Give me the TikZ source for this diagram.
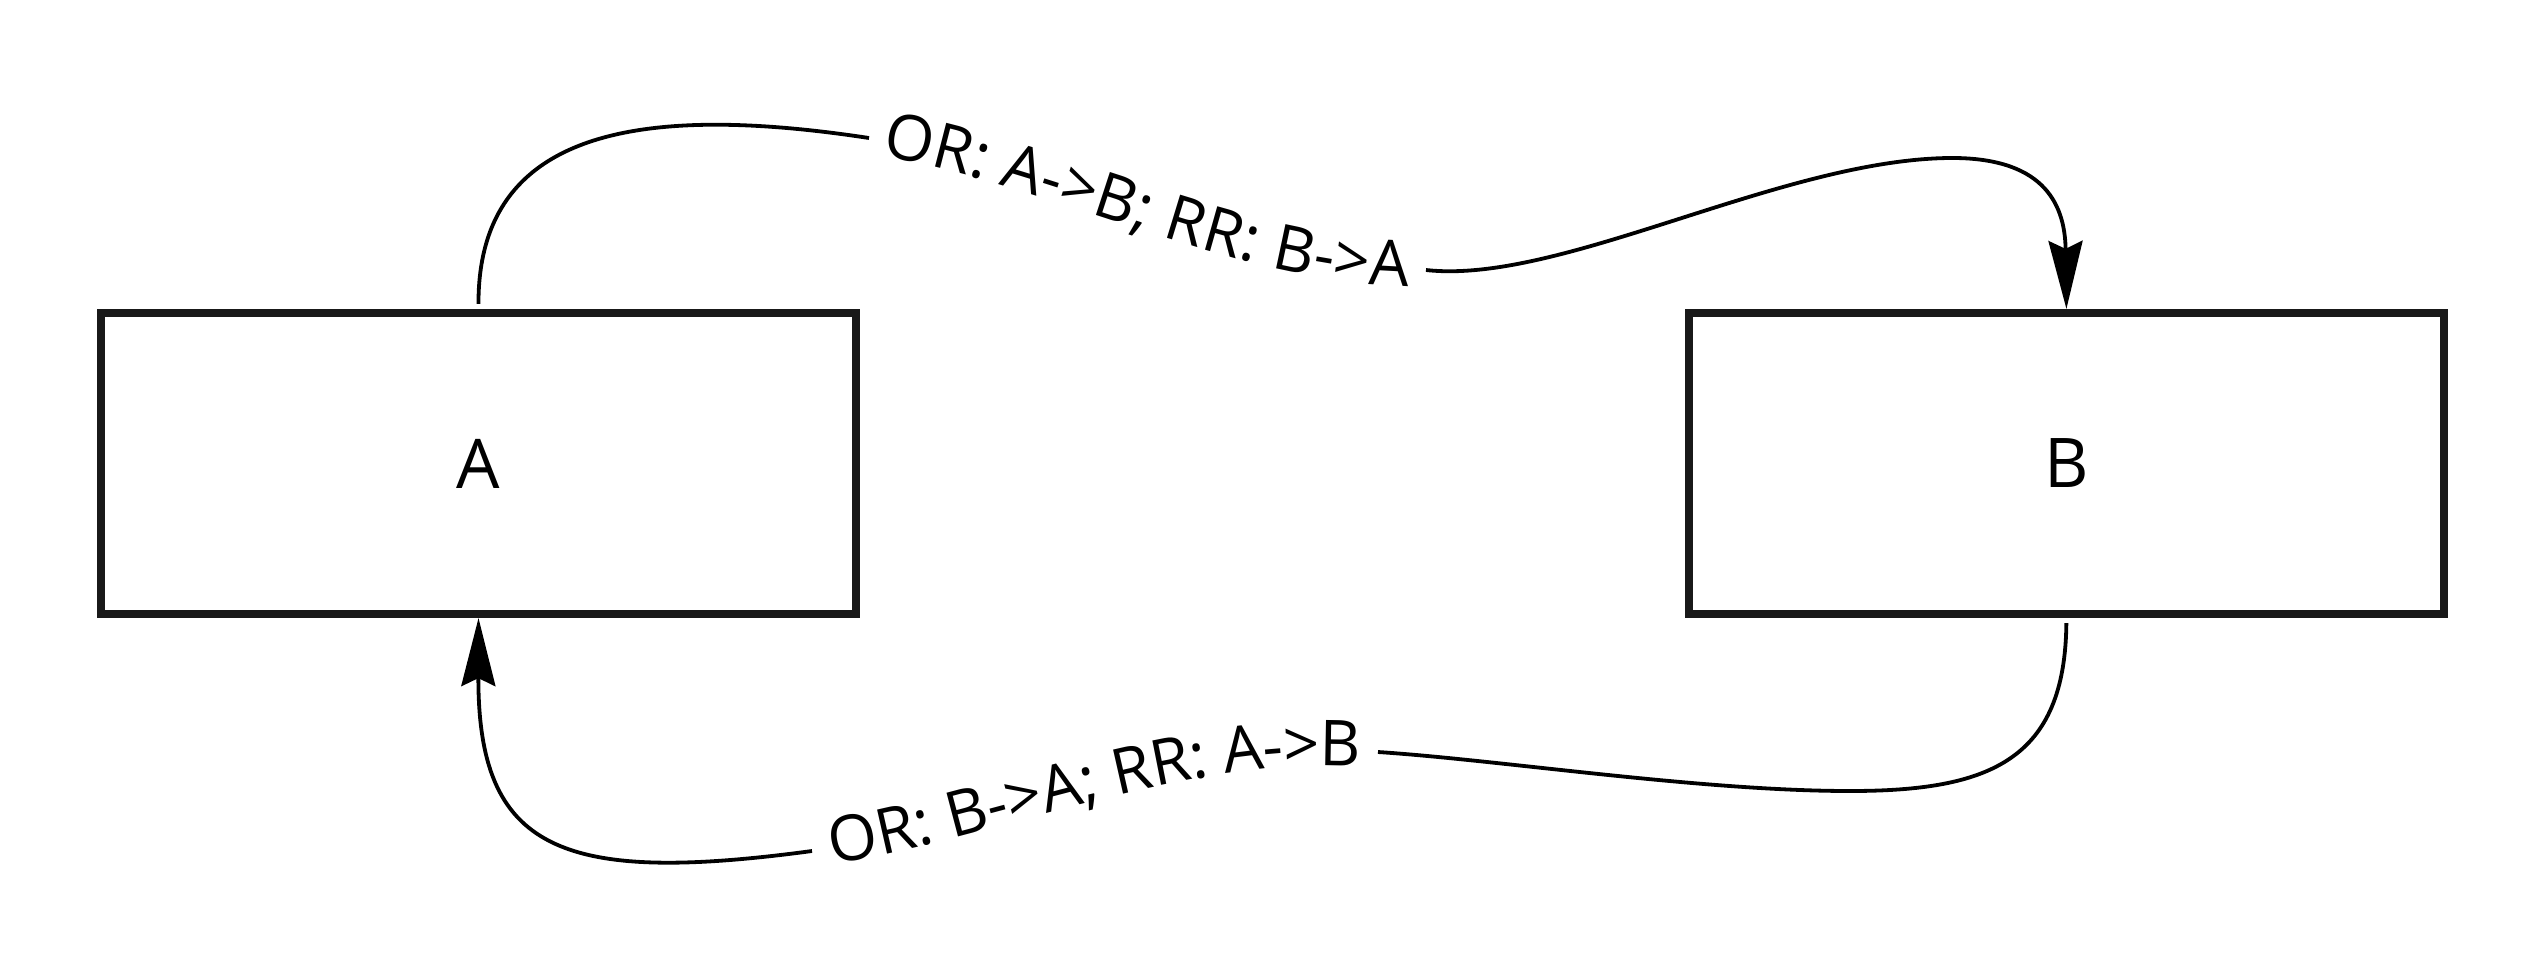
\documentclass[tikz,border=0pt]{standalone}
\usepackage{fontspec}
\setmainfont{Open Sans}
\usetikzlibrary{arrows.meta,positioning,decorations.text}
\newcommand\lblsize{\fontsize{19.5pt}{23pt}\selectfont}
\newcommand\edgesize{\fontsize{18pt}{22pt}\selectfont}

\begin{document}
\begin{tikzpicture}[
x=0.01cm,y=-0.01cm,
node distance=8.24cm,
every node/.style={font=\lblsize},
box/.style={draw=black!90,line width=0.08cm,minimum width=7.55cm,minimum height=3.01cm},
link/.style={line width=0.038cm,draw=black},
arr/.style={link,-{Stealth[length=0.68cm,width=0.34cm,inset=0.08cm]}},
lbl/.style={decorate,decoration={text along path,text align=center,raise=-0.16cm,text={|\edgesize|#1}}}
]
\useasboundingbox (0,0) rectangle (2547,978);
\node[box] (a) at (478.5,463.5) {A};
\node[box,right=of a] (b) {B};
% upper edge, A to B
\coordinate (ab1) at (869,138);
\coordinate (ab2) at (1426,270);
\draw[link,shorten <=0.05cm] (a.north) .. controls (478,140) and (620,100) .. (ab1);
\path[lbl={OR: A->B; RR: B->A}] (ab1) .. controls (1050,165) and (1250,275) .. (ab2);
\draw[arr] (ab2) .. controls (1560,285) and (1780,160) .. (1949,158) .. controls (2040,157) and (2065,200) .. (b.north);
% lower edge, B to A
\coordinate (ba1) at (812,851);
\coordinate (ba2) at (1378,752);
\draw[link,shorten <=0.05cm] (b.south) .. controls (2065,760) and (1990,791) .. (1850,791) .. controls (1700,791) and (1500,760) .. (ba2);
\path[lbl={OR: B->A; RR: A->B}] (ba1) .. controls (980,830) and (1180,735) .. (ba2);
\draw[arr] (ba1) .. controls (560,885) and (478,850) .. (a.south);
\end{tikzpicture}
\end{document}
